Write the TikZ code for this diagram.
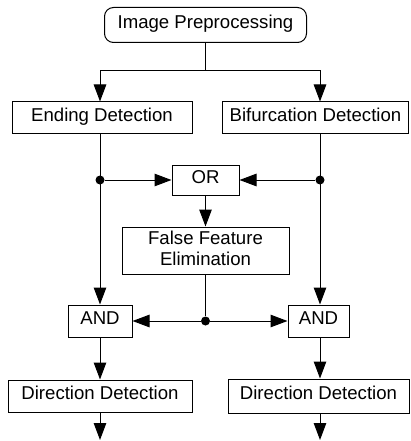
\documentclass[tikz,border=0pt]{standalone}
\usepackage{fontspec}
\setmainfont{Liberation Sans}
\usetikzlibrary{arrows.meta}
\begin{document}
\begin{tikzpicture}[x=1pt,y=-1pt,
  every node/.style={font=\fontsize{18.6}{21}\selectfont, inner sep=0pt, text height=0.72em, text depth=0pt},
  blk/.style={draw=black, line width=1pt, rectangle, align=center},
  conn/.style={line width=1pt, draw=black},
  arr/.style={conn, -{Triangle[length=17pt,width=12.5pt]}},
  jdot/.style={circle, fill=black, minimum size=9pt, inner sep=0pt, text height=, text depth=}
]
\useasboundingbox (0,0) rectangle (410,441);
\node[blk, rounded corners=9pt, minimum width=202pt, minimum height=35pt] (pre) at (205.5,25) {Image Preprocessing};
\node[blk, minimum width=180pt, minimum height=31pt] (end) at (102,117.5) {Ending Detection};
\node[blk, minimum width=186pt, minimum height=31pt] (bif) at (315.5,117.5) {Bifurcation Detection};
\node[blk, minimum width=67pt, minimum height=30pt] (or) at (205.5,180) {OR};
\node[blk, minimum width=167pt, minimum height=47pt, text height=, text depth=4pt] (ffe) at (205.5,250.5) {False Feature\\Elimination};
\node[blk, minimum width=64pt, minimum height=32pt] (andl) at (100,321) {AND};
\node[blk, minimum width=61pt, minimum height=32pt] (andr) at (318.5,321) {AND};
\node[blk, minimum width=184pt, minimum height=32pt] (ddl) at (100,396) {Direction Detection};
\node[blk, minimum width=181pt, minimum height=34pt] (ddr) at (318.5,396) {Direction Detection};

\coordinate (split) at (205.5,70.5);
\coordinate (sl) at (100,70.5);
\coordinate (sr) at (320,70.5);
\node[jdot] (dl) at (100,180) {};
\node[jdot] (dr) at (320,180) {};
\node[jdot] (dm) at (205.5,321) {};
\coordinate (outl) at (100,440);
\coordinate (outr) at (320,440);

\draw[conn] (pre.south) -- (split);
\draw[conn] (sl) -- (sr);
\draw[arr] (sl) -- (sl |- end.north);
\draw[arr] (sr) -- (sr |- bif.north);
\draw[arr] (sl |- end.south) -- (andl.north);
\draw[arr] (sr |- bif.south) -- (sr |- andr.north);
\draw[arr] (dl) -- (or.west);
\draw[arr] (dr) -- (or.east);
\draw[arr] (or.south) -- (ffe.north);
\draw[conn] (ffe.south) -- (dm);
\draw[arr] (dm) -- (andl.east);
\draw[arr] (dm) -- (andr.west);
\draw[arr] (andl.south) -- (ddl.north);
\draw[arr] (sr |- andr.south) -- (sr |- ddr.north);
\draw[arr] (ddl.south) -- (outl);
\draw[arr] (sr |- ddr.south) -- (outr);
\end{tikzpicture}
\end{document}
